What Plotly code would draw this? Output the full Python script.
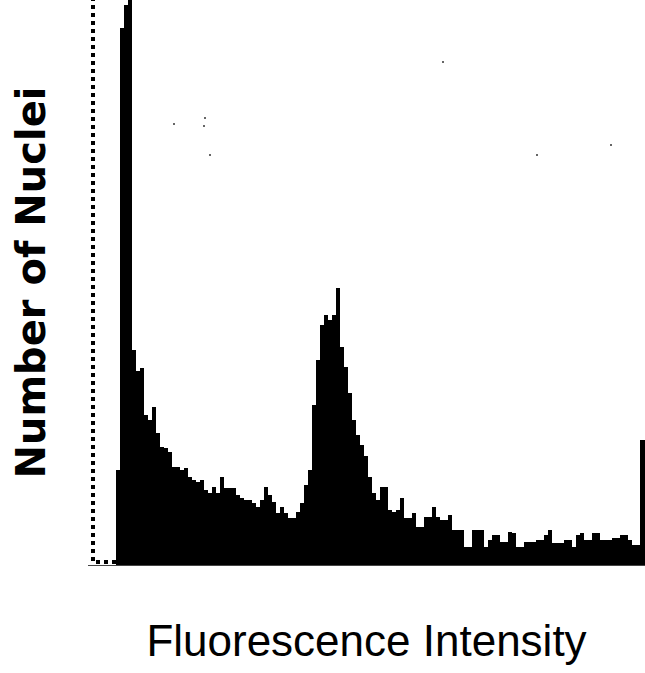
import plotly.graph_objects as go

# Histogram counts per channel (channel 0 at the left edge of the plot)
counts = [
    0, 0, 0, 0, 0, 0, 0, 95, 537, 560,          # 0-9
    700, 215, 194, 197, 150, 145, 158, 132, 118, 117,   # 10-19
    113, 98, 98, 95, 97, 88, 85, 83, 85, 75,    # 20-29
    72, 78, 72, 88, 77, 77, 77, 70, 67, 65,     # 30-39
    65, 62, 58, 65, 78, 70, 63, 52, 58, 52,     # 40-49
    47, 47, 53, 62, 80, 95, 160, 205, 240, 250, # 50-59
    245, 250, 277, 218, 198, 172, 145, 130, 120, 109,   # 60-69
    88, 72, 65, 78, 78, 55, 53, 55, 67, 47,     # 70-79
    47, 52, 38, 38, 48, 48, 58, 48, 45, 45,     # 80-89
    50, 35, 35, 35, 18, 18, 35, 35, 35, 18,     # 90-99
    25, 30, 30, 23, 23, 33, 32, 18, 18, 23,     # 100-109
    23, 23, 25, 25, 30, 35, 22, 22, 22, 25,     # 110-119
    25, 18, 30, 32, 25, 25, 32, 32, 25, 25,     # 120-129
    25, 27, 27, 30, 30, 25, 20, 20, 125, 125,   # 130-139
]
channels = list(range(len(counts)))

# Off-scale low channel drawn as a dotted outline
low_outline_x = [1.25, 1.25, 7.25]
low_outline_y = [600, 3, 3]

# Stray single events
stray_x = [21.5, 29.25, 29.0, 30.5, 88.75, 112.25, 130.75]
stray_y = [441, 447, 439, 410, 503, 410, 420]

fig = go.Figure()
fig.add_trace(go.Bar(
    x=[c + 0.5 for c in channels], y=counts, width=1,
    marker=dict(color="black", line=dict(width=0)),
    showlegend=False, hoverinfo="skip"))
fig.add_trace(go.Scatter(
    x=low_outline_x, y=low_outline_y, mode="lines",
    line=dict(color="black", width=4, dash="dot"),
    showlegend=False, hoverinfo="skip"))
fig.add_trace(go.Scatter(
    x=stray_x, y=stray_y, mode="markers",
    marker=dict(color="#333333", size=2),
    showlegend=False, hoverinfo="skip"))

fig.update_layout(
    width=645, height=673,
    margin=dict(l=88, r=0, t=0, b=108),
    paper_bgcolor="white", plot_bgcolor="white",
    bargap=0,
    xaxis=dict(range=[0, 139.25], showgrid=False, zeroline=False,
               showticklabels=False, ticks="",
               showline=True, linecolor="#444444", linewidth=1,
               title=dict(text="Fluorescence Intensity", standoff=60,
                          font=dict(family="Liberation Sans, Arial", size=44, color="black")),
               automargin=False),
    yaxis=dict(range=[0, 565], showgrid=False, zeroline=False,
               showticklabels=False, ticks="", showline=False,
               title=dict(text="Number of Nuclei", standoff=29,
                          font=dict(family="DejaVu Sans", size=40, color="black", weight="bold")),
               automargin=False),
)

fig.write_html("out.html")
